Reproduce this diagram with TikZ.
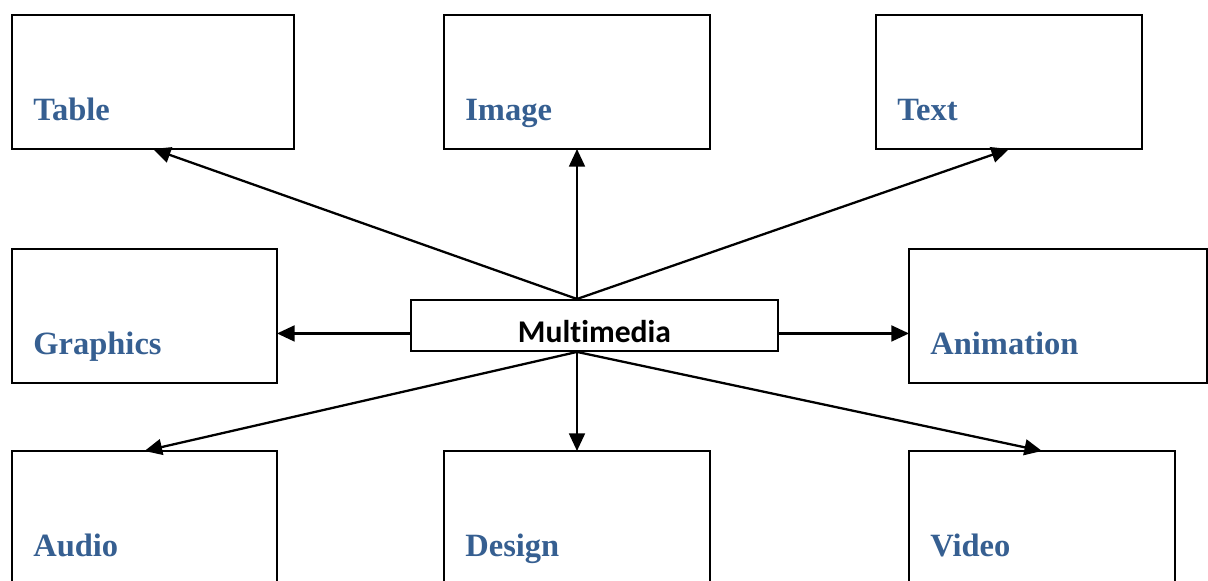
\documentclass[tikz,border=0pt]{standalone}
\usepackage{fontspec}
\setmainfont{Liberation Serif}
\newfontfamily\calibrifont[Ligatures=NoCommon]{Carlito}
\definecolor{labelblue}{RGB}{54, 95, 145}
\usetikzlibrary{arrows.meta, positioning, calc}

\tikzset{
  itembox/.style={draw=black, line width=1.1pt, inner sep=0pt, outer sep=0pt, anchor=north west, minimum height=134*0.02cm},
  itemlabel/.style={anchor=base west, inner sep=0pt, text=labelblue, font=\fontsize{18.5}{20}\selectfont\bfseries},
  conn/.style={line width=1.3pt, -{Triangle[length=10pt, width=9pt]}}
}

\begin{document}
\begin{tikzpicture}[x=0.02cm, y=0.02cm]
  \useasboundingbox (0,0) rectangle (1208,581);

  % Centre box
  \node[draw=black, line width=1.1pt, inner sep=0pt, anchor=north west, minimum width=367*0.02cm, minimum height=51*0.02cm,
        text height=19pt, text depth=0pt,
        font=\calibrifont\fontsize{18}{20}\selectfont\bfseries] (mm) at (410, 282) {Multimedia};

  % Top row
  \node[itembox, minimum width=282*0.02cm] (table) at (12, 566) {};
  \node[itembox, minimum width=266*0.02cm] (image) at (444, 566) {};
  \node[itembox, minimum width=266*0.02cm] (text) at (876, 566) {};

  % Middle row
  \node[itembox, minimum width=265*0.02cm] (graphics) at (12, 332) {};
  \node[itembox, minimum width=298*0.02cm] (animation) at (909, 332) {};

  % Bottom row
  \node[itembox, minimum width=265*0.02cm] (audio) at (12, 130) {};
  \node[itembox, minimum width=266*0.02cm] (design) at (444, 130) {};
  \node[itembox, minimum width=266*0.02cm] (video) at (909, 130) {};

  % Labels
  \node[itemlabel] (tablel) at ([shift={(21,-106)}]table.north west) {Table};
  \node[itemlabel] (imagel) at ([shift={(21,-106)}]image.north west) {Image};
  \node[itemlabel] (textl) at ([shift={(21,-106)}]text.north west) {Text};
  \node[itemlabel] (graphicsl) at ([shift={(21,-106)}]graphics.north west) {Graphics};
  \node[itemlabel] (animationl) at ([shift={(21,-106)}]animation.north west) {Animation};
  \node[itemlabel] (audiol) at ([shift={(21,-106)}]audio.north west) {Audio};
  \node[itemlabel] (designl) at ([shift={(21,-106)}]design.north west) {Design};
  \node[itemlabel] (videol) at ([shift={(21,-106)}]video.north west) {Video};

  % Connectors
  \coordinate (mmtop) at (mm.north -| image.south);
  \coordinate (mmbot) at (mm.south -| design.north);
  \coordinate (mmleft) at ([yshift=-8*0.02cm]mm.west);
  \coordinate (mmright) at ([yshift=-8*0.02cm]mm.east);
  \draw[conn] (mmtop) -- (table.south);
  \draw[conn] (mmtop) -- (image.south);
  \draw[conn] (mmtop) -- (text.south);
  \draw[conn] (mmleft) -- (mmleft -| graphics.east);
  \draw[conn] (mmright) -- (mmright -| animation.west);
  \draw[conn] (mmbot) -- (audio.north);
  \draw[conn] (mmbot) -- (design.north);
  \draw[conn] (mmbot) -- (video.north);
\end{tikzpicture}
\end{document}
